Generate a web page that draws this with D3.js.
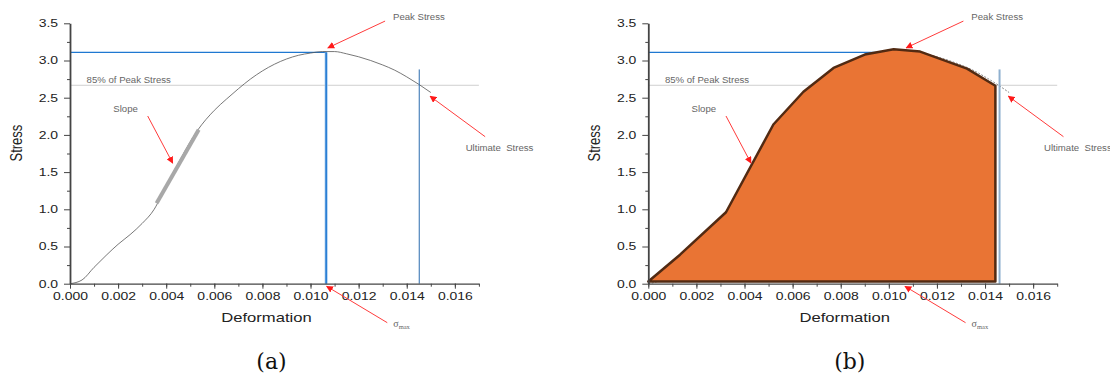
<!DOCTYPE html>
<html>
<head>
<meta charset="utf-8">
<script src="https://cdn.jsdelivr.net/npm/d3@7"></script>
<style>
  body { margin: 0; background: #fff; }
  text { font-family: "Liberation Sans", Arial, sans-serif; }
</style>
</head>
<body>
<div id="chart"></div>
<script>
// curve: [deformation, stress]
var curve = [[0,0],[0.0005,0.05],[0.001,0.22],[0.0015,0.38],[0.002,0.53],[0.0025,0.66],
  [0.003,0.81],[0.0035,1.0],[0.0038,1.18],[0.0045,1.62],[0.0053,2.06],[0.006,2.33],
  [0.0065,2.48],[0.007,2.62],[0.0075,2.75],[0.008,2.86],[0.0085,2.95],[0.009,3.02],
  [0.0095,3.07],[0.010,3.10],[0.0105,3.12],[0.011,3.12],[0.0115,3.09],[0.012,3.05],
  [0.0125,3.00],[0.013,2.94],[0.0135,2.87],[0.014,2.78],[0.0145,2.68],[0.015,2.57]]

// linear slope segment
var slope = [[0.0036,1.08],[0.00535,2.07]]

// simplified polygon in panel (b)
var area = [[0,0.03],[0.00132,0.39],[0.00323,0.96],[0.0052,2.14],[0.00645,2.58],
  [0.0077,2.90],[0.009,3.08],[0.0102,3.15],[0.0113,3.12],[0.01325,2.89],
  [0.01443,2.66],[0.01443,0.03]]

var peakStress = 3.11
var peakDef = 0.01065
var limitStress = 2.667
var ultimateDef = 0.01452
var ultimateTop = 2.88

var xTicks = [0,0.002,0.004,0.006,0.008,0.010,0.012,0.014,0.016]
var yTicks = [0,0.5,1.0,1.5,2.0,2.5,3.0,3.5]

// annotations: label, text pos, arrow tail, arrow head (data units)
var notes = [
  {label: "Peak Stress", t: [0.01343,3.544], a: [0.0131,3.53], b: [0.01072,3.17]},
  {label: "Ultimate  Stress", t: [0.01645,1.788], a: [0.01726,1.976], b: [0.01497,2.52]},
  {label: "Slope", t: [0.0018,2.312], a: [0.00323,2.254], b: [0.00427,1.62]}
]
var sigmaNote = {t: [0.01344,-0.578], a: [0.01319,-0.524], b: [0.01067,-0.035]}

var W = 1110, H = 379
var sx = 1.33  // axis text in the picture is stretched sideways

var svg = d3.select("#chart").append("svg")
  .attr("width", W).attr("height", H)

svg.append("defs").append("marker")
  .attr("id", "arr")
  .attr("viewBox", "0 0 10 10")
  .attr("refX", 9).attr("refY", 5)
  .attr("markerWidth", 7).attr("markerHeight", 7)
  .attr("markerUnits", "userSpaceOnUse")
  .attr("orient", "auto")
  .append("path")
  .attr("d", "M0,0 L10,5 L0,10 z")
  .attr("fill", "#ff1a1a")

function panel(left, filled, caption) {
  var x = d3.scaleLinear().domain([0, 0.017]).range([left, left + 408.9])
  var y = d3.scaleLinear().domain([0, 3.5]).range([283.7, 23.3])
  var g = svg.append("g")
  var line = d3.line().x(d => x(d[0])).y(d => y(d[1]))
  var smooth = d3.line().x(d => x(d[0])).y(d => y(d[1])).curve(d3.curveMonotoneX)

  // reference lines
  g.append("line")
    .attr("x1", x(0)).attr("x2", x(0.017))
    .attr("y1", y(limitStress)).attr("y2", y(limitStress))
    .attr("stroke", "#cfcfcf").attr("stroke-width", 1)

  g.append("line")
    .attr("x1", x(0)).attr("x2", x(peakDef))
    .attr("y1", y(peakStress)).attr("y2", y(peakStress))
    .attr("stroke", "#1f78d1").attr("stroke-width", 1.3)

  if (!filled) {
    g.append("line")
      .attr("x1", x(peakDef)).attr("x2", x(peakDef))
      .attr("y1", y(peakStress)).attr("y2", y(0))
      .attr("stroke", "#9cc6ee").attr("stroke-width", 3)
    g.append("line")
      .attr("x1", x(peakDef)).attr("x2", x(peakDef))
      .attr("y1", y(peakStress)).attr("y2", y(0))
      .attr("stroke", "#1f78d1").attr("stroke-width", 1.5)
  }

  // curve
  g.append("path")
    .datum(curve)
    .attr("d", smooth)
    .attr("fill", "none")
    .attr("stroke", filled ? "#888" : "#555")
    .attr("stroke-width", filled ? 1 : 0.8)
    .attr("stroke-dasharray", filled ? "2,1.5" : null)

  if (!filled) {
    g.append("path")
      .datum(slope)
      .attr("d", line)
      .attr("stroke", "#a8a8a8").attr("stroke-width", 4)
  } else {
    g.append("path")
      .datum(area)
      .attr("d", d => line(d) + "Z")
      .attr("fill", "#e97434")
      .attr("stroke", "#522a12").attr("stroke-width", 2.5)
      .attr("stroke-linejoin", "round")
  }

  g.append("line")
    .attr("x1", x(ultimateDef) + (filled ? 2 : 0)).attr("x2", x(ultimateDef) + (filled ? 2 : 0))
    .attr("y1", y(ultimateTop)).attr("y2", y(0))
    .attr("stroke", filled ? "#8fb0cf" : "#2b6cae")
    .attr("stroke-width", filled ? 2 : 1)

  // axes
  var xAxis = g.append("g")
    .attr("transform", "translate(0," + y(0) + ")")
    .call(d3.axisBottom(x).tickValues(d3.range(0, 0.0171, 0.001)).tickSize(3).tickFormat(""))
  xAxis.select(".domain").remove()
  xAxis.selectAll("line").attr("stroke", "#444")

  var xMaj = g.append("g")
    .attr("transform", "translate(0," + y(0) + ")")
    .call(d3.axisBottom(x).tickValues(xTicks).tickSize(5).tickSizeOuter(0).tickPadding(4)
      .tickFormat(d3.format(".3f")))
  xMaj.select(".domain").attr("stroke", "#444").attr("stroke-width", 1.2)
  xMaj.selectAll("line").attr("stroke", "#444")
  xMaj.selectAll("text")
    .attr("fill", "#222").style("font-size", "10.5px")
    .attr("transform", "scale(" + sx + ",1)")

  var yMin = g.append("g")
    .attr("transform", "translate(" + x(0) + ",0)")
    .call(d3.axisLeft(y).tickValues(d3.range(0.25, 3.5, 0.5)).tickSize(3).tickFormat(""))
  yMin.select(".domain").remove()
  yMin.selectAll("line").attr("stroke", "#444")

  var yMaj = g.append("g")
    .attr("transform", "translate(" + x(0) + ",0)")
    .call(d3.axisLeft(y).tickValues(yTicks).tickSize(6).tickSizeOuter(0).tickPadding(3)
      .tickFormat(d3.format(".1f")))
  yMaj.select(".domain").attr("stroke", "#444").attr("stroke-width", 1.8)
  yMaj.selectAll("line").attr("stroke", "#444")
  yMaj.selectAll("text")
    .attr("fill", "#222").style("font-size", "10.5px")
    .attr("transform", "scale(" + sx + ",1)")

  // axis titles
  g.append("text")
    .attr("transform", "translate(" + (x(0.0085) - 8) + ",321.5) scale(" + sx + ",1)")
    .attr("text-anchor", "middle")
    .style("font-size", "12.5px").attr("fill", "#222")
    .text("Deformation")

  g.append("text")
    .attr("transform", "translate(" + (x(0) - 48) + "," + y(1.89) + ") scale(" + sx + ",1) rotate(-90)")
    .attr("text-anchor", "middle")
    .style("font-size", "13px").attr("fill", "#222")
    .text("Stress")

  // annotations
  g.append("text")
    .attr("x", x(0.00069)).attr("y", y(2.70))
    .style("font-size", "9.6px").attr("fill", "#666")
    .text("85% of Peak Stress")

  notes.forEach(function(n) {
    g.append("line")
      .attr("x1", x(n.a[0])).attr("y1", y(n.a[1]))
      .attr("x2", x(n.b[0])).attr("y2", y(n.b[1]))
      .attr("stroke", "#ff3b3b").attr("stroke-width", 1)
      .attr("marker-end", "url(#arr)")
    g.append("text")
      .attr("x", x(n.t[0])).attr("y", y(n.t[1]))
      .style("font-size", "9.6px").style("white-space", "pre").attr("fill", "#666")
      .text(n.label)
  })

  g.append("line")
    .attr("x1", x(sigmaNote.a[0])).attr("y1", y(sigmaNote.a[1]))
    .attr("x2", x(sigmaNote.b[0])).attr("y2", y(sigmaNote.b[1]))
    .attr("stroke", "#ff3b3b").attr("stroke-width", 1)
    .attr("marker-end", "url(#arr)")
  var sg = g.append("text")
    .attr("x", x(sigmaNote.t[0])).attr("y", y(sigmaNote.t[1]))
    .style("font-family", "'Liberation Serif', 'Times New Roman', serif")
    .style("font-size", "10px").attr("fill", "#666")
  sg.append("tspan").text("σ")
  sg.append("tspan").attr("dy", 2).style("font-size", "6.5px").text("max")

  // caption
  g.append("text")
    .attr("x", x(0.0085) - 3).attr("y", 369)
    .attr("text-anchor", "middle")
    .style("font-family", "'DejaVu Serif', serif")
    .style("font-size", "22px").attr("fill", "#111")
    .text(caption)
}

panel(70, false, "(a)")
panel(648.3, true, "(b)")
</script>
</body>
</html>
